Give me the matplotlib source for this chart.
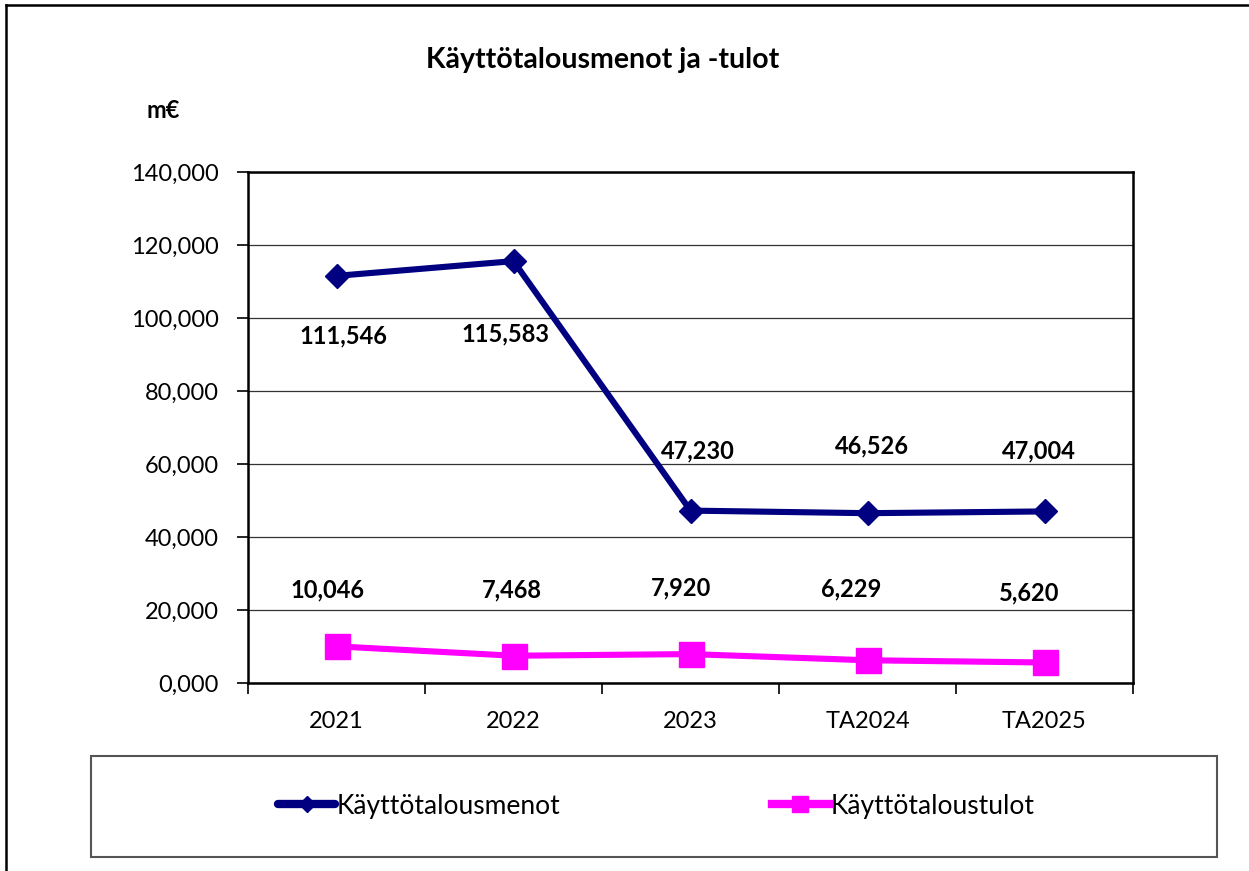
import matplotlib
matplotlib.use("Agg")
import matplotlib.pyplot as plt
from matplotlib.ticker import FuncFormatter, FixedLocator
from matplotlib.lines import Line2D
from matplotlib.patches import Rectangle

plt.rcParams['font.family'] = ['Lato', 'DejaVu Sans']

categories = ["2021", "2022", "2023", "TA2024", "TA2025"]
menot = [111.546, 115.583, 47.230, 46.526, 47.004]
tulot = [10.046, 7.468, 7.920, 6.229, 5.620]
series_names = ["Käyttötalousmenot", "Käyttötaloustulot"]
title = "Käyttötalousmenot ja -tulot"
unit = "m€"

# label offsets in pixels (dx, dy; dy positive = upward)
menot_off = [(7, -60), (-8, -73), (7, 60), (4, 67), (-6, 61)]
tulot_off = [(-9, 56), (-2, 66), (-9, 66), (-16, 71), (-15, 70)]

def fmt(v):
    return f"{v:.3f}".replace(".", ",")

W, H = 1249, 871
fig = plt.figure(figsize=(W / 100, H / 100), dpi=100)
ax = fig.add_axes([248 / W, 1 - 683 / H, (1133 - 248) / W, (683 - 172) / H])

x = list(range(len(categories)))
ax.plot(x, menot, color="#000080", lw=4.4, marker="D", ms=12, solid_capstyle="round",
        solid_joinstyle="round", zorder=3)
ax.plot(x, tulot, color="#FF00FF", lw=4.4, marker="s", ms=18, zorder=3)

for xi, v, (dx, dy) in zip(x, menot, menot_off):
    ax.annotate(fmt(v), (xi, v), xytext=(dx * 0.72, dy * 0.72), textcoords="offset points",
                ha="center", va="center", fontsize=17, fontweight="bold", color="black")
for xi, v, (dx, dy) in zip(x, tulot, tulot_off):
    ax.annotate(fmt(v), (xi, v), xytext=(dx * 0.72, dy * 0.72), textcoords="offset points",
                ha="center", va="center", fontsize=17, fontweight="bold", color="black")

ax.set_xlim(-0.5, len(categories) - 0.5)
ax.set_ylim(0, 140)
ax.yaxis.set_major_locator(FixedLocator([0, 20, 40, 60, 80, 100, 120, 140]))
ax.yaxis.set_major_formatter(FuncFormatter(lambda v, p: fmt(v)))
ax.grid(axis="y", color="#333333", lw=0.9, zorder=0)
ax.set_axisbelow(True)

ax.set_xticks(x)
ax.set_xticklabels(categories)
ax.set_xticks([i - 0.5 for i in range(len(categories) + 1)], minor=True)
ax.tick_params(axis="x", which="major", length=0, pad=20, labelsize=17)
ax.tick_params(axis="x", which="minor", length=8, width=1.2, direction="out")
ax.tick_params(axis="y", which="major", length=8, width=1.2, pad=13, labelsize=17)
for s in ax.spines.values():
    s.set_linewidth(1.8)
    s.set_color("black")

fig.text(603 / W, 1 - 60 / H, title, ha="center", va="center", fontsize=20.5, fontweight="bold")
fig.text(163 / W, 1 - 111 / H, unit, ha="center", va="center", fontsize=17, fontweight="bold")

# outer border (left and top)
fig.add_artist(Line2D([6 / W, 6 / W], [0, 1 - 5 / H], transform=fig.transFigure, color="black", lw=1.8))
fig.add_artist(Line2D([6 / W, 1], [1 - 5 / H, 1 - 5 / H], transform=fig.transFigure, color="black", lw=1.8))

# legend box
fig.add_artist(Rectangle((91 / W, 1 - 857 / H), (1217 - 91) / W, (857 - 756) / H,
                         transform=fig.transFigure, fill=False, edgecolor="#555555", lw=1.5))
handles = [Line2D([], [], color="#000080", lw=6, marker="D", ms=8, solid_capstyle="round"),
           Line2D([], [], color="#FF00FF", lw=6, marker="s", ms=12)]
fig.legend(handles, series_names, loc="center", bbox_to_anchor=(656.5 / W, 1 - 806 / H),
           ncol=2, frameon=False, fontsize=19, handlelength=2.15, handletextpad=0.08,
           columnspacing=8.0)

fig.savefig("out.png", dpi=100)
